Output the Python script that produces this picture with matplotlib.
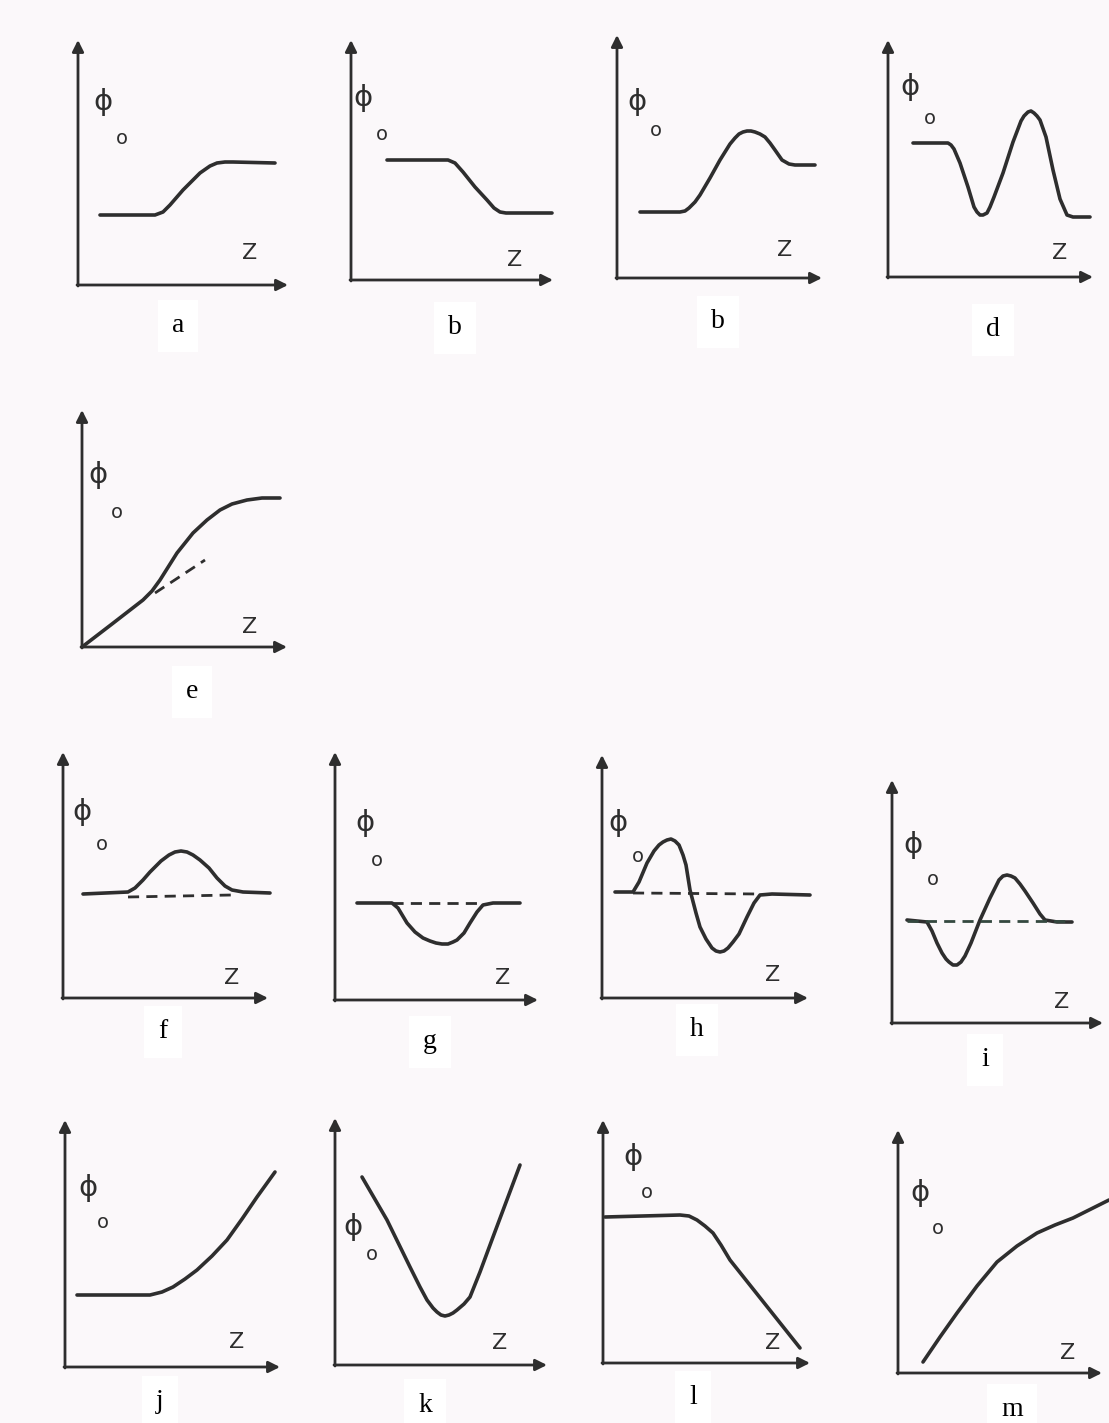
import matplotlib
matplotlib.use("Agg")
import matplotlib.pyplot as plt

# Sketches of the order-parameter profile phi_0 along z, one small panel per case.
# Units are arbitrary: z and phi are measured from each panel's origin.

a_z = [22, 77, 85, 92, 105, 122, 132, 139, 147, 155, 197]
a_phi = [70, 70, 73, 80, 95, 112, 119, 122, 123, 123, 122]

b_z = [36, 97, 104, 112, 124, 136, 143, 149, 155, 160, 201]
b_phi = [120, 120, 117, 108, 93, 80, 72, 68, 67, 67, 67]

c_z = [23, 63, 68, 72, 78, 83, 93, 103, 113, 118, 122, 126, 130, 134, 138, 143,
       148, 153, 158, 165, 172, 178, 198]
c_phi = [66, 66, 67, 70, 76, 83, 100, 118, 134, 140, 144, 146, 147, 147, 146, 144,
         141, 135, 128, 118, 114, 113, 113]

d_z = [25, 60, 63, 66, 72, 80, 86, 89, 92, 95, 99, 102, 106, 115, 125, 133, 136,
       140, 143, 146, 149, 152, 158, 165, 172, 179, 182, 185, 202]
d_phi = [134, 134, 132, 128, 114, 90, 70, 65, 62, 62, 64, 70, 80, 104, 135, 156, 161,
         165, 166, 164, 161, 157, 140, 107, 78, 62, 61, 60, 60]

e_z = [0, 30, 61, 70, 78, 95, 111, 125, 138, 150, 165, 180, 198]
e_phi = [0, 23, 47, 56, 67, 94, 114, 127, 137, 143, 147, 149, 149]
e_tangent_z = [73, 123]
e_tangent_phi = [54, 87]

f_z = [20, 65, 72, 80, 87, 98, 106, 112, 118, 124, 130, 137, 146, 154, 162, 169,
       180, 207]
f_phi = [104, 106, 110, 118, 126, 137, 143, 146, 147, 146, 143, 138, 130, 120, 112,
         108, 106, 105]
f_base_z = [65, 169]
f_base_phi = [101, 103]

g_z = [22, 57, 63, 72, 80, 88, 95, 101, 107, 113, 118, 122, 129, 135, 142, 148,
       158, 185]
g_phi = [97, 97, 92, 77, 68, 62, 59, 57, 56, 56, 58, 60, 67, 77, 88, 95, 97, 97]
g_base_z = [57, 148]
g_base_phi = [97, 97]

h_z = [13, 31, 37, 45, 52, 57, 61, 65, 69, 73, 77, 81, 84, 88, 94, 98, 104, 110,
       114, 118, 122, 126, 131, 137, 145, 152, 158, 170, 208]
h_phi = [106, 106, 116, 135, 147, 153, 156, 158, 159, 157, 153, 143, 133, 108, 85, 71,
         59, 50, 47, 46, 47, 50, 56, 64, 81, 95, 103, 104, 103]
h_base_z = [31, 158]
h_base_phi = [105, 104]

i_z = [15, 35, 40, 45, 50, 54, 57, 61, 65, 69, 73, 79, 88, 98, 103, 107, 111, 115,
       119, 123, 128, 133, 141, 148, 153, 165, 180]
i_phi = [103, 101, 92, 80, 70, 64, 61, 58, 58, 61, 67, 80, 103, 125, 135, 143, 147, 148,
         147, 145, 139, 132, 120, 109, 103, 101, 101]
i_base_z = [15, 180]
i_base_phi = [102, 102]

j_z = [12, 85, 97, 108, 120, 132, 147, 162, 177, 192, 210]
j_phi = [72, 72, 75, 80, 88, 97, 111, 127, 148, 170, 195]

k_z = [27, 52, 75, 85, 92, 98, 102, 106, 110, 114, 118, 122, 129, 135, 145, 158, 185]
k_phi = [188, 145, 98, 78, 65, 57, 53, 50, 49, 50, 52, 55, 61, 68, 93, 128, 200]

l_z = [2, 77, 86, 94, 102, 110, 118, 127, 197]
l_phi = [146, 148, 147, 143, 137, 130, 118, 103, 15]

m_z = [25, 42, 59, 79, 99, 119, 139, 157, 175, 193, 211]
m_phi = [11, 36, 60, 87, 111, 127, 140, 148, 155, 164, 173]

panel_letters = ["a", "b", "b", "d", "e", "f", "g", "h", "i", "j", "k", "l", "m"]

# panel frames in pixels: origin x, origin y, arrow tip of z axis, arrow tip of phi axis
frames = [
    (78, 285, 288, 40), (351, 280, 553, 40), (617, 278, 822, 35), (888, 277, 1093, 40),
    (82, 647, 287, 410),
    (63, 998, 268, 752), (335, 1000, 538, 752), (602, 998, 808, 755), (892, 1023, 1103, 780),
    (65, 1367, 280, 1120), (335, 1365, 547, 1118), (603, 1363, 810, 1120),
    (898, 1373, 1102, 1130),
]
# label positions in panel units: (phi symbol), (subscript o), (z), (letter)
label_pos = [
    ((25, 183), (44, 147), (172, 32), (100, -41)),
    ((12, 182), (31, 145), (164, 20), (104, -48)),
    ((20, 176), (39, 147), (168, 28), (101, -44)),
    ((22, 190), (42, 159), (172, 24), (105, -53)),
    ((16, 172), (35, 135), (168, 20), (110, -45)),
    ((19, 186), (39, 153), (169, 20), (100, -34)),
    ((30, 177), (42, 140), (168, 22), (95, -42)),
    ((16, 175), (36, 141), (171, 23), (95, -32)),
    ((21, 178), (41, 143), (170, 21), (93, -37)),
    ((23, 179), (38, 145), (172, 25), (95, -35)),
    ((18, 138), (37, 110), (165, 22), (90, -40)),
    ((30, 206), (44, 171), (170, 20), (90, -34)),
    ((22, 180), (40, 145), (170, 20), (114, -37)),
]

curves = [(a_z, a_phi), (b_z, b_phi), (c_z, c_phi), (d_z, d_phi), (e_z, e_phi),
          (f_z, f_phi), (g_z, g_phi), (h_z, h_phi), (i_z, i_phi),
          (j_z, j_phi), (k_z, k_phi), (l_z, l_phi), (m_z, m_phi)]
dashed = {4: (e_tangent_z, e_tangent_phi), 5: (f_base_z, f_base_phi),
          6: (g_base_z, g_base_phi), 7: (h_base_z, h_base_phi),
          8: (i_base_z, i_base_phi)}

W, H = 1109, 1423
ink = "#2e2e2e"
fig = plt.figure(figsize=(W / 100, H / 100), dpi=100, facecolor="#fbf8fa")

for n, (x0, y0, xend, ytop) in enumerate(frames):
    w = xend - x0
    h = y0 - ytop
    ax = fig.add_axes([x0 / W, 1 - y0 / H, w / W, h / H])
    ax.set_xlim(0, w)
    ax.set_ylim(0, h)
    ax.set_axis_off()

    # axes drawn as arrows
    arrow = dict(arrowstyle="-|>", lw=2.0, color=ink, mutation_scale=17,
                 shrinkA=0, shrinkB=0)
    ax.annotate("", xy=(w, 0), xytext=(-1, 0), arrowprops=arrow, annotation_clip=False)
    ax.annotate("", xy=(0, h), xytext=(0, -1), arrowprops=arrow, annotation_clip=False)

    z, phi = curves[n]
    ax.plot(z, phi, color=ink, lw=2.6, solid_joinstyle="round",
            solid_capstyle="round", clip_on=False)
    if n in dashed:
        dz, dphi = dashed[n]
        col = "#34483f" if n == 8 else ink
        ax.plot(dz, dphi, color=col, lw=2.0, linestyle=(0, (4, 2.6)), clip_on=False)

    p_phi, p_o, p_z, p_let = label_pos[n]
    ax.text(*p_phi, "ɸ", fontsize=21, color=ink, ha="center", va="center",
            family="DejaVu Sans")
    ax.text(*p_o, "o", fontsize=14, color=ink, ha="center", va="center",
            family="DejaVu Sans")
    ax.text(*p_z, "Z", fontsize=16, color=ink, ha="center", va="center",
            family="DejaVu Sans")
    ax.text(*p_let, panel_letters[n], fontsize=20, color="black", ha="center",
            va="center", family="Liberation Serif", clip_on=False,
            bbox=dict(facecolor="white", edgecolor="none", pad=10))

fig.savefig("out.png", dpi=100, facecolor=fig.get_facecolor())
